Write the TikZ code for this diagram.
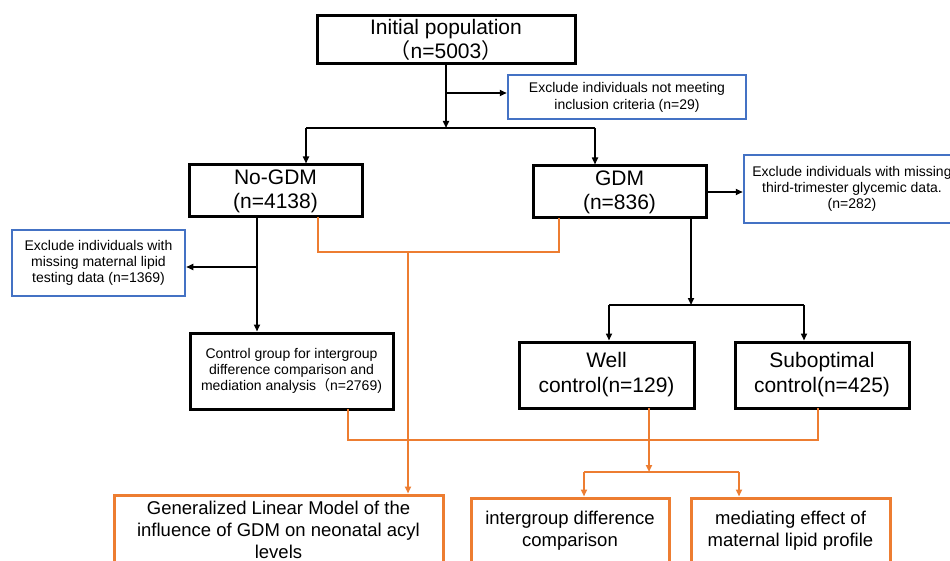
\documentclass[tikz,border=0pt]{standalone}
\usepackage{fontspec}
\setmainfont{Liberation Sans}
\newfontfamily\cjk{Noto Sans CJK SC}
\usetikzlibrary{arrows.meta}
\definecolor{blueC}{HTML}{4472C4}
\definecolor{orangeC}{HTML}{ED7D31}
\tikzset{
  bigbox/.style={draw=black, line width=3pt, align=center, inner sep=0pt, font=\fontsize{21}{24}\selectfont},
  exbox/.style={draw=blueC, line width=2.5pt, align=center, inner sep=0pt, font=\fontsize{14}{16}\selectfont},
  obox/.style={draw=orangeC, line width=3pt, align=center, inner sep=0pt, font=\fontsize{18.5}{22}\selectfont},
  arr/.style={-{Triangle[length=7pt,width=6pt]}, line width=1.6pt, black},
  ln/.style={line width=1.6pt, black},
  oarr/.style={-{Triangle[length=7pt,width=6pt]}, line width=2pt, orangeC},
  oln/.style={line width=2pt, orangeC}
}
\begin{document}
\begin{tikzpicture}[x=1pt,y=-1pt]
\useasboundingbox (0,0) rectangle (950,561);
\clip (0,0) rectangle (950,561);
\fill[white] (0,0) rectangle (950,561);
% nodes
\node[bigbox, minimum width=258pt, minimum height=48pt] (init) at (446,40) {Initial population\\{\cjk （}n=5003{\cjk ）}};
\node[exbox, minimum width=238pt, minimum height=44pt, font=\fontsize{14}{17}\selectfont] (exc1) at (627,97) {Exclude individuals not meeting\\inclusion criteria (n=29)};
\node[bigbox, minimum width=173pt, minimum height=52pt] (nogdm) at (275.5,191) {No-GDM\\(n=4138)};
\node[bigbox, minimum width=173pt, minimum height=52pt] (gdm) at (619.5,192) {GDM\\(n=836)};
\node[exbox, minimum width=173pt, minimum height=66pt] (exc2) at (98.5,263) {Exclude individuals with\\missing maternal lipid\\testing data (n=1369)};
\node[bigbox, minimum width=203pt, minimum height=76pt, font=\fontsize{14}{16}\selectfont] (ctrl) at (291.5,371) {Control group for intergroup\\difference comparison and\\mediation analysis{\cjk （}n=2769)};
\node[exbox, minimum width=216pt, minimum height=68pt] (exc3) at (852,189) {Exclude individuals with missing\\third-trimester glycemic data.\\(n=282)};
\node[bigbox, minimum width=175pt, minimum height=66pt, font=\fontsize{21}{25}\selectfont] (well) at (606.5,375) {Well\\control(n=129)};
\node[bigbox, minimum width=174pt, minimum height=66pt, font=\fontsize{21}{25}\selectfont] (sub) at (822,375) {Suboptimal\\control(n=425)};
\node[obox, minimum width=329pt, minimum height=70pt] (glm) at (278.5,530) {Generalized Linear Model of the\\influence of GDM on neonatal acyl\\levels};
\node[obox, minimum width=198pt, minimum height=66pt] (inter) at (570,531) {intergroup difference\\comparison};
\node[obox, minimum width=199pt, minimum height=66pt] (med) at (790.5,531) {mediating effect of\\maternal lipid profile};
% black connectors
\coordinate (xa) at (306,128);
\coordinate (xb) at (595,128);
\draw[arr] (init.south) -- (init.south |- xa);
\draw[ln] (xa) -- (xb);
\draw[arr] (xa) -- (xa |- nogdm.north);
\draw[arr] (xb) -- (xb |- gdm.north);
\coordinate (e1) at (446,93);
\draw[arr] (e1) -- (e1 -| exc1.west);
\coordinate (na) at (257,217);
\coordinate (nb) at (257,267);
\draw[arr] (na) -- (na |- ctrl.north);
\draw[arr] (nb) -- (nb -| exc2.east);
\coordinate (ga) at (706,192);
\draw[arr] (ga) -- (ga -| exc3.west);
\coordinate (gb) at (691,218);
\coordinate (gs) at (691,305);
\draw[arr] (gb) -- (gs);
\coordinate (wl) at (609,305);
\coordinate (sr) at (804,305);
\draw[ln] (wl) -- (sr);
\draw[arr] (wl) -- (wl |- well.north);
\draw[arr] (sr) -- (sr |- sub.north);
% orange connectors
\draw[oln] (318,217) -- (318,252) -- (559,252) -- (559,218);
\coordinate (oa) at (408,252);
\draw[oarr] (oa) -- (oa |- glm.north);
\draw[oln] (348,409) -- (348,440) -- (818,440) -- (818,408);
\coordinate (ob) at (649,408);
\coordinate (oc) at (649,472);
\draw[oarr] (ob) -- (oc);
\coordinate (ol) at (584,472);
\coordinate (or) at (739,472);
\draw[oln] (ol) -- (or);
\draw[oarr] (ol) -- (ol |- inter.north);
\draw[oarr] (or) -- (or |- med.north);
\end{tikzpicture}
\end{document}
